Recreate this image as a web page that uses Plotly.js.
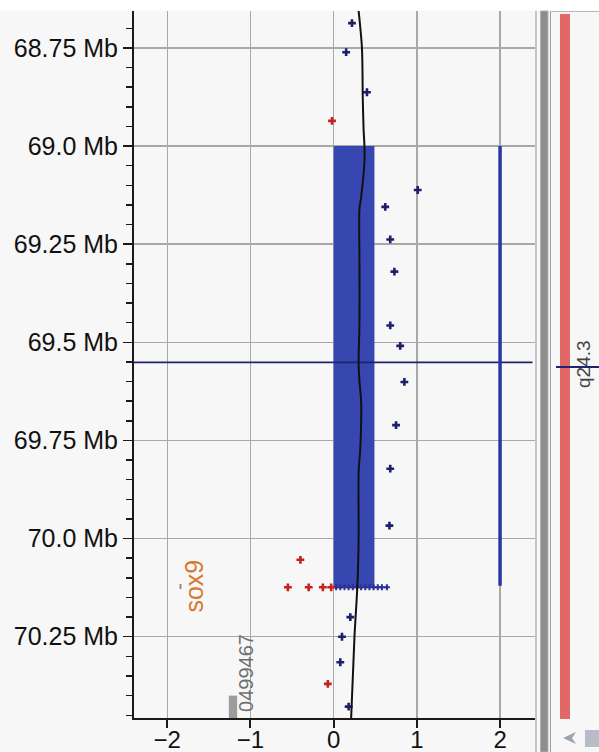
<!DOCTYPE html>
<html>
<head>
<meta charset="utf-8">
<script src="https://cdn.plot.ly/plotly-3.0.1.min.js"></script>
<style>
html,body{margin:0;padding:0;background:#f7f7f7;}
#chart{width:599px;height:752px;}
</style>
</head>
<body>
<div id="chart"></div>
<script>
// Y ticks (position in Mb)
var yTickVals = [68.75, 69.0, 69.25, 69.5, 69.75, 70.0, 70.25];
var yTickText = ["68.75 Mb", "69.0 Mb", "69.25 Mb", "69.5 Mb", "69.75 Mb", "70.0 Mb", "70.25 Mb"];
var xTickVals = [-2, -1, 0, 1, 2];

// Segment bar (copy-number segment)
var segX = [0.245];
var segWidth = [0.49];
var segStart = [69.0];
var segLength = [1.122];

// Small gray gene bar
var geneBarX = [-1.21];
var geneBarWidth = [0.1];
var geneBarStart = [70.40];
var geneBarLength = [0.06];

// Smoothed black line
var curveX = [0.30, 0.34, 0.35, 0.36, 0.37, 0.37, 0.33, 0.31, 0.31, 0.31, 0.30, 0.31, 0.33, 0.32, 0.30, 0.30, 0.285, 0.25, 0.21];
var curveY = [68.656, 68.75, 68.88, 68.96, 69.0, 69.04, 69.13, 69.16, 69.3, 69.45, 69.55, 69.6, 69.65, 69.77, 69.83, 70.0, 70.12, 70.25, 70.457];

// Blue probe points
var blueX = [0.22, 0.15, 0.40, 1.01, 0.62, 0.68, 0.73, 0.68, 0.80, 0.85, 0.75, 0.68, 0.67, 0.20, 0.10, 0.08, 0.18];
var blueY = [68.687, 68.761, 68.863, 69.112, 69.155, 69.238, 69.32, 69.457, 69.509, 69.601, 69.711, 69.822, 69.967, 70.20, 70.25, 70.315, 70.428];

// Dense blue points along the segment end
var blueRowX = [0.03, 0.08, 0.13, 0.18, 0.23, 0.28, 0.33, 0.38, 0.43, 0.48, 0.53, 0.58, 0.64];
var blueRowY = [70.124, 70.124, 70.124, 70.124, 70.124, 70.124, 70.124, 70.124, 70.124, 70.124, 70.124, 70.124, 70.124];

// Red probe points
var redX = [-0.02, -0.40, -0.55, -0.30, -0.13, -0.03, -0.07];
var redY = [68.936, 70.054, 70.124, 70.124, 70.124, 70.124, 70.37];

// Marker lines
var hLineX = [-2.4, 2.39];
var hLineY = [69.551, 69.551];
var vLineX = [2, 2];
var vLineY = [69.0, 70.12];

var traces = [
  {type:'bar', x:segX, y:segLength, base:segStart, width:segWidth,
   marker:{color:'#3747b0', line:{width:0}}, hoverinfo:'skip'},
  {type:'bar', x:geneBarX, y:geneBarLength, base:geneBarStart, width:geneBarWidth,
   marker:{color:'#9c9c9c', line:{width:0}}, hoverinfo:'skip'},
  {type:'scatter', mode:'lines', x:hLineX, y:hLineY, line:{color:'#1f2470', width:1.6}},
  {type:'scatter', mode:'lines', x:vLineX, y:vLineY, line:{color:'#2b35a8', width:3.5}},
  {type:'scatter', mode:'markers', x:blueRowX, y:blueRowY,
   marker:{symbol:'cross', size:5, color:'#2a3095'}},
  {type:'scatter', mode:'markers', x:blueX, y:blueY,
   marker:{symbol:'cross', size:6.5, color:'#1c1f6b'}},
  {type:'scatter', mode:'markers', x:redX, y:redY,
   marker:{symbol:'cross', size:6.5, color:'#c4221a'}},
  {type:'scatter', mode:'lines', x:curveX, y:curveY,
   line:{color:'#111111', width:2, shape:'spline', smoothing:0.8}}
];

function px2paperX(px){ return (px-134)/401; }
function px2paperY(py){ return (718-py)/707; }

var layout = {
  width:599, height:752,
  margin:{l:134, r:64, t:11, b:34, pad:0},
  paper_bgcolor:'#f7f7f7', plot_bgcolor:'#f7f7f7',
  showlegend:false, barmode:'overlay',
  font:{family:'Liberation Sans, Arial, sans-serif', color:'#111'},
  xaxis:{range:[-2.4, 2.42], tickmode:'array', tickvals:xTickVals,
    showgrid:true, gridcolor:'#a8a8a8', gridwidth:1.5, zeroline:false,
    showline:true, linecolor:'#1a1a1a', linewidth:2,
    ticks:'outside', ticklen:8, tickwidth:2, tickcolor:'#1a1a1a',
    tickfont:{size:24, color:'#111'}, ticklabelstandoff:-9, fixedrange:true},
  yaxis:{range:[70.457, 68.656], tickmode:'array', tickvals:yTickVals, ticktext:yTickText,
    showgrid:true, gridcolor:'#a8a8a8', gridwidth:1.5, zeroline:false,
    showline:true, linecolor:'#1a1a1a', linewidth:2,
    ticks:'outside', ticklen:9, tickwidth:1.5, tickcolor:'#1a1a1a',
    tickfont:{size:25, color:'#111'}, ticklabelstandoff:0,
    minor:{tickmode:'linear', tick0:68.75, dtick:0.05, ticks:'outside', ticklen:6, tickwidth:1.5, tickcolor:'#1a1a1a', showgrid:false},
    fixedrange:true},
  shapes:[
    {type:'rect', xref:'paper', yref:'paper', x0:px2paperX(0), x1:px2paperX(599), y0:px2paperY(0), y1:px2paperY(10.5), fillcolor:'#ffffff', line:{width:0}, layer:'below'},
    {type:'line', xref:'paper', yref:'paper', x0:px2paperX(536), x1:px2paperX(536), y0:px2paperY(11), y1:px2paperY(752), line:{color:'#b4b4b4', width:1.5}},
    {type:'rect', xref:'paper', yref:'paper', x0:px2paperX(540.5), x1:px2paperX(548), y0:px2paperY(11), y1:px2paperY(752), fillcolor:'#8e8e8e', line:{color:'#b0b0b0', width:1}},
    {type:'line', xref:'paper', yref:'paper', x0:px2paperX(550.5), x1:px2paperX(550.5), y0:px2paperY(11), y1:px2paperY(752), line:{color:'#a0a0a0', width:1}},
    {type:'line', xref:'paper', yref:'paper', x0:px2paperX(550), x1:px2paperX(599), y0:px2paperY(11.5), y1:px2paperY(11.5), line:{color:'#b8b8b8', width:1}},
    {type:'rect', xref:'paper', yref:'paper', x0:px2paperX(560), x1:px2paperX(570), y0:px2paperY(14), y1:px2paperY(719), fillcolor:'#e26868', line:{width:0}},
    {type:'line', xref:'paper', yref:'paper', x0:px2paperX(556), x1:px2paperX(599), y0:px2paperY(367), y1:px2paperY(367), line:{color:'#1f2470', width:1.8}},
    {type:'path', xref:'paper', yref:'paper',
     path:'M '+px2paperX(576)+' '+px2paperY(732)+' L '+px2paperX(563)+' '+px2paperY(738)+' L '+px2paperX(576)+' '+px2paperY(744)+' L '+px2paperX(572)+' '+px2paperY(738)+' Z',
     fillcolor:'#9aa2b2', line:{width:0}},
    {type:'rect', xref:'paper', yref:'paper', x0:px2paperX(585), x1:px2paperX(604), y0:px2paperY(730), y1:px2paperY(747), fillcolor:'#b7bcc6', line:{width:0}},
    {type:'line', xref:'paper', yref:'paper', x0:px2paperX(180.5), x1:px2paperX(180.5), y0:px2paperY(584), y1:px2paperY(589), line:{color:'#888', width:2}}
  ],
  annotations:[
    {xref:'x', yref:'y', x:-1.68, y:70.12, text:'sox9', textangle:-90, showarrow:false,
     font:{size:25, color:'#d8782c'}, xanchor:'center', yanchor:'middle'},
    {xref:'x', yref:'y', x:-1.045, y:70.343, text:'0499467', textangle:-90, showarrow:false,
     font:{size:20, color:'#707070'}, xanchor:'center', yanchor:'middle'},
    {xref:'paper', yref:'paper', x:px2paperX(583), y:px2paperY(364), text:'q24.3', textangle:-90, showarrow:false,
     font:{size:19, color:'#444'}, xanchor:'center', yanchor:'middle'}
  ]
};

Plotly.newPlot('chart', traces, layout, {displayModeBar:false, staticPlot:true});
</script>
</body>
</html>
